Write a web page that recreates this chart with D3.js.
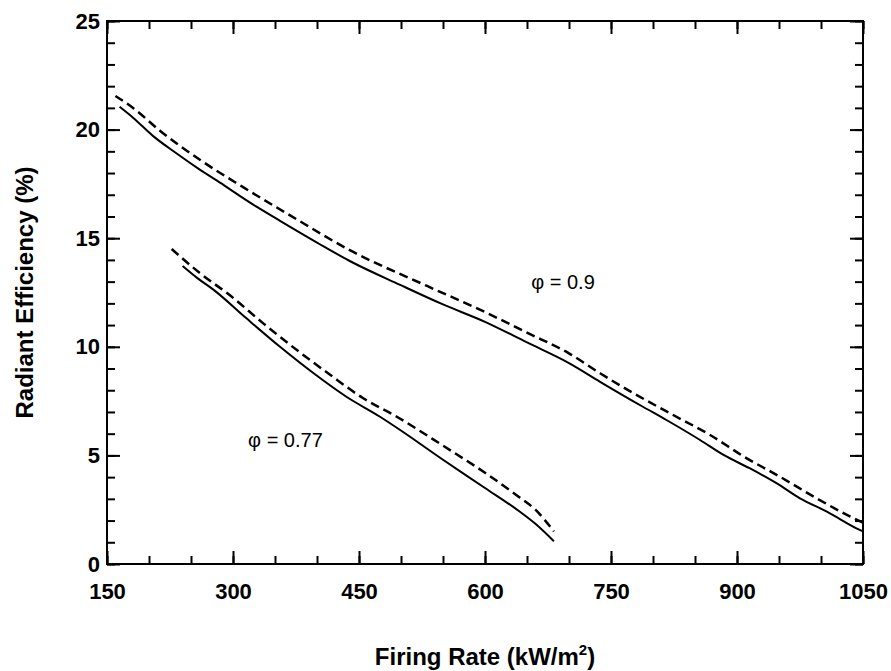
<!DOCTYPE html>
<html>
<head>
<meta charset="utf-8">
<script src="https://cdn.jsdelivr.net/npm/d3@7"></script>
<style>
  body { margin: 0; background: #fff; }
  text { font-family: "Liberation Sans", Arial, sans-serif; fill: #000; }
</style>
</head>
<body>
<div id="chart"></div>
<script>
// tick values
let xMajor = [150, 300, 450, 600, 750, 900, 1050];
let xMinor = d3.range(150, 1051, 50);
let yMajor = [0, 5, 10, 15, 20, 25];
let yMinor = d3.range(0, 26, 1);

// phi = 0.9 (solid and dashed)
let phi09SolidX = [165, 181, 205, 233, 257, 281, 308, 328, 356, 400, 439, 499, 550, 600, 650, 700, 737, 788, 816, 856, 884, 915, 947, 975, 1007, 1046, 1050];
let phi09SolidY = [21.05, 20.55, 19.7, 18.9, 18.25, 17.65, 16.95, 16.45, 15.8, 14.8, 13.95, 12.85, 11.95, 11.15, 10.2, 9.25, 8.39, 7.24, 6.63, 5.71, 5.02, 4.41, 3.72, 3.02, 2.41, 1.57, 1.5];
let phi09DashX = [160, 181, 213, 261, 312, 368, 439, 531, 600, 650, 700, 737, 777, 824, 868, 908, 951, 995, 1035, 1050];
let phi09DashY = [21.55, 21.0, 19.95, 18.6, 17.35, 16.05, 14.45, 12.8, 11.6, 10.65, 9.7, 8.78, 7.86, 6.86, 5.94, 4.95, 4.02, 3.02, 2.18, 1.9];

// phi = 0.77 (solid and dashed)
let phi077SolidX = [240, 258, 277, 316, 356, 396, 435, 475, 499, 550, 600, 640, 660, 682];
let phi077SolidY = [13.72, 13.15, 12.62, 11.31, 10.0, 8.78, 7.70, 6.78, 6.17, 4.8, 3.5, 2.45, 1.85, 1.05];
let phi077DashX = [227, 261, 296, 336, 376, 416, 455, 495, 550, 600, 640, 660, 682];
let phi077DashY = [14.5, 13.38, 12.38, 11.08, 9.85, 8.70, 7.63, 6.78, 5.45, 4.2, 3.1, 2.5, 1.5];

// annotation labels
let labelText = ["\u03c6 = 0.9", "\u03c6 = 0.77"];
let labelX = [655, 318];
let labelY = [12.65, 5.4];

let svgWidth = 891;
let svgHeight = 671;
let margin = { top: 21, right: 28, bottom: 107, left: 107 };
let width = svgWidth - margin.left - margin.right;
let height = svgHeight - margin.top - margin.bottom;

let svg = d3.select("#chart")
    .append("svg")
    .attr("width", svgWidth)
    .attr("height", svgHeight);

let g = svg.append("g")
    .attr("transform", `translate(${margin.left}, ${margin.top})`);

let x = d3.scaleLinear().domain([150, 1050]).range([0, width]);
let y = d3.scaleLinear().domain([0, 25]).range([height, 0]);

// axes: ticks point inward on all four sides
function styleAxis(sel) {
    sel.select(".domain").remove();
    sel.selectAll(".tick line").attr("stroke", "#000").attr("stroke-width", 2);
    sel.selectAll("text")
        .attr("font-size", "22px")
        .attr("font-weight", "bold")
        .attr("fill", "#000");
}

g.append("g").attr("transform", `translate(0, ${height})`)
    .call(d3.axisBottom(x).tickValues(xMinor).tickFormat("").tickSize(-8).tickSizeOuter(0))
    .call(styleAxis);
g.append("g").attr("transform", `translate(0, ${height})`)
    .call(d3.axisBottom(x).tickValues(xMajor).tickFormat(d3.format("d")).tickSize(-13).tickSizeOuter(0).tickPadding(19))
    .call(styleAxis);
g.append("g")
    .call(d3.axisTop(x).tickValues(xMinor).tickFormat("").tickSize(-8).tickSizeOuter(0))
    .call(styleAxis);
g.append("g")
    .call(d3.axisTop(x).tickValues(xMajor).tickFormat("").tickSize(-13).tickSizeOuter(0))
    .call(styleAxis);

g.append("g")
    .call(d3.axisLeft(y).tickValues(yMinor).tickFormat("").tickSize(-8).tickSizeOuter(0))
    .call(styleAxis);
g.append("g")
    .call(d3.axisLeft(y).tickValues(yMajor).tickFormat(d3.format("d")).tickSize(-13).tickSizeOuter(0).tickPadding(7))
    .call(styleAxis);
g.append("g").attr("transform", `translate(${width}, 0)`)
    .call(d3.axisRight(y).tickValues(yMinor).tickFormat("").tickSize(-8).tickSizeOuter(0))
    .call(styleAxis);
g.append("g").attr("transform", `translate(${width}, 0)`)
    .call(d3.axisRight(y).tickValues(yMajor).tickFormat("").tickSize(-13).tickSizeOuter(0))
    .call(styleAxis);

// frame
g.append("rect")
    .attr("width", width)
    .attr("height", height)
    .attr("fill", "none")
    .attr("stroke", "#000")
    .attr("stroke-width", 2);

// curves
let line = d3.line()
    .x(d => x(d[0]))
    .y(d => y(d[1]))
    .curve(d3.curveMonotoneX);

let series = [
    { xs: phi09SolidX, ys: phi09SolidY, dash: null },
    { xs: phi09DashX, ys: phi09DashY, dash: "9,5" },
    { xs: phi077SolidX, ys: phi077SolidY, dash: null },
    { xs: phi077DashX, ys: phi077DashY, dash: "9,5" }
];

series.forEach(function(s) {
    let pts = s.xs.map((v, i) => [v, s.ys[i]]);
    g.append("path")
        .datum(pts)
        .attr("d", line)
        .attr("fill", "none")
        .attr("stroke", "#000")
        .attr("stroke-width", s.dash ? 2.5 : 2)
        .attr("stroke-dasharray", s.dash);
});

// phi labels
g.selectAll(".phi")
    .data(labelText)
    .enter()
    .append("text")
    .attr("class", "phi")
    .attr("x", (d, i) => x(labelX[i]))
    .attr("y", (d, i) => y(labelY[i]))
    .attr("font-size", "20px")
    .text(d => d);

// axis titles
svg.append("text")
    .attr("x", margin.left + width / 2)
    .attr("y", 665)
    .attr("text-anchor", "middle")
    .attr("font-size", "24px")
    .attr("font-weight", "bold")
    .text("Firing Rate (kW/m")
    .append("tspan")
    .attr("font-size", "15px")
    .attr("dy", -10)
    .text("2")
    .select(function() { return this.parentNode; })
    .append("tspan")
    .attr("dy", 10)
    .text(")");

svg.append("text")
    .attr("transform", `translate(33, ${margin.top + height / 2}) rotate(-90)`)
    .attr("text-anchor", "middle")
    .attr("font-size", "24px")
    .attr("font-weight", "bold")
    .text("Radiant Efficiency (%)");
</script>
</body>
</html>
